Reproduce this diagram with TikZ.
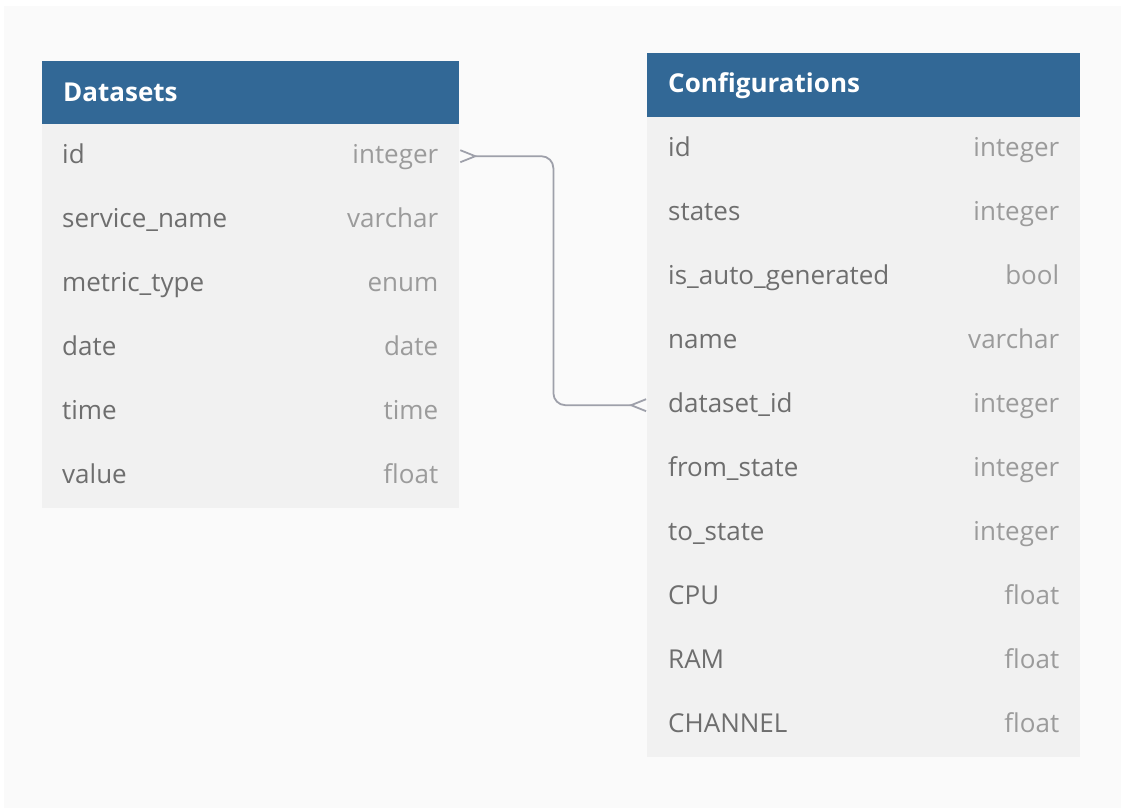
\documentclass[tikz,border=0pt]{standalone}
\usepackage{fontspec}
\setmainfont{Open Sans}
\usetikzlibrary{arrows.meta}
\definecolor{hdrblue}{RGB}{50,104,150}
\definecolor{rowgray}{RGB}{241,241,241}
\definecolor{bggray}{RGB}{250,250,250}
\definecolor{fieldtxt}{RGB}{110,110,110}
\definecolor{typetxt}{RGB}{155,155,155}
\definecolor{linkgray}{RGB}{158,160,170}
\tikzset{
  hdr/.style={fill=hdrblue,minimum height=64pt,inner sep=0pt,anchor=north west},
  row/.style={fill=rowgray,minimum height=64pt,inner sep=0pt,anchor=north west},
  title/.style={text=white,anchor=west,inner sep=0pt,font=\fontsize{26}{30}\selectfont\bfseries},
  fld/.style={text=fieldtxt,anchor=west,inner sep=0pt,text height=19pt,text depth=5pt,font=\fontsize{26}{30}\selectfont},
  typ/.style={text=typetxt,anchor=east,inner sep=0pt,text height=19pt,text depth=5pt,font=\fontsize{26}{30}\selectfont},
  crow/.tip={Straight Barb[reversed,length=15pt,width=12pt,line width=1.8pt]},
  link/.style={draw=linkgray,line width=1.8pt,rounded corners=12pt,crow-crow}
}
\begin{document}
\begin{tikzpicture}[x=1pt,y=-1pt]
\useasboundingbox (0,0) rectangle (1124,810);
\fill[white](0,0)rectangle(1124,810);
\fill[bggray](4,6)rectangle(1121,808);

% Datasets table
\node[hdr,minimum width=417pt,minimum height=63pt](ds0)at(42,61){};
\node[title]at([xshift=21pt]ds0.west){Datasets};
\foreach \n/\t [count=\i] in {id/integer,service\_name/varchar,metric\_type/enum,date/date,time/time,value/float}
{
  \node[row,minimum width=417pt](ds\i)at(42,124+64*\i-64){};
  \node[fld]at([xshift=20pt]ds\i.west){\n};
  \node[typ]at([xshift=-21pt]ds\i.east){\t};
}

% Configurations table
\node[hdr,minimum width=433pt](cf0)at(647,53){};
\node[title]at([xshift=21pt]cf0.west){Configurations};
\foreach \n/\t [count=\i] in {id/integer,states/integer,is\_auto\_generated/bool,name/varchar,dataset\_id/integer,from\_state/integer,to\_state/integer,CPU/float,RAM/float,CHANNEL/float}
{
  \node[row,minimum width=433pt](cf\i)at(647,117+64*\i-64){};
  \node[fld]at([xshift=21pt]cf\i.west){\n};
  \node[typ]at([xshift=-21pt]cf\i.east){\t};
}

\draw[link](ds1.east)--++(94,0)|-(cf5.west);
\end{tikzpicture}
\end{document}
